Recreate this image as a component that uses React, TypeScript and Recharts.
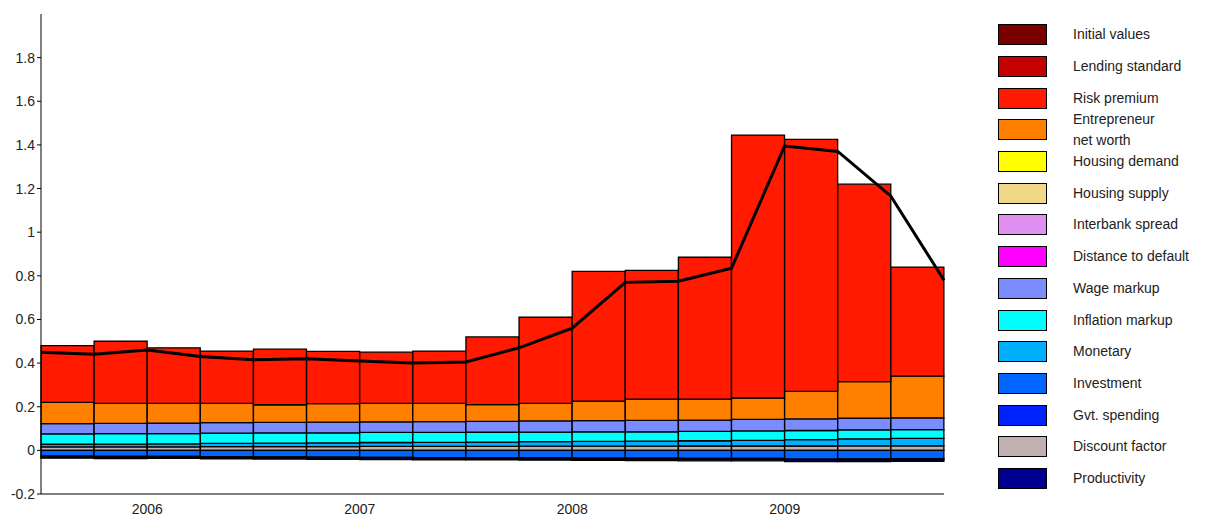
import React from 'react';
import { ComposedChart, Bar, Line, XAxis, YAxis } from 'recharts';

const quarters = ['2005Q3','2005Q4','2006Q1','2006Q2','2006Q3','2006Q4','2007Q1','2007Q2','2007Q3','2007Q4','2008Q1','2008Q2','2008Q3','2008Q4','2009Q1','2009Q2','2009Q3'];
const yearTicks: Record<number, string> = { 2: '2006', 6: '2007', 10: '2008', 14: '2009' };

const productivity = [-0.005,-0.006,-0.005,-0.006,-0.006,-0.006,-0.006,-0.006,-0.006,-0.006,-0.006,-0.007,-0.007,-0.007,-0.008,-0.008,-0.008];
const gvtSpending = [-0.004,-0.004,-0.004,-0.004,-0.004,-0.004,-0.004,-0.004,-0.004,-0.004,-0.004,-0.004,-0.004,-0.004,-0.004,-0.004,-0.004];
const investment = [-0.027,-0.028,-0.028,-0.029,-0.030,-0.031,-0.032,-0.033,-0.034,-0.035,-0.036,-0.036,-0.037,-0.037,-0.040,-0.039,-0.038];
const discountFactor = [0.016,0.016,0.016,0.017,0.017,0.017,0.018,0.018,0.018,0.019,0.019,0.019,0.020,0.020,0.020,0.021,0.021];
const monetary = [0.012,0.013,0.014,0.015,0.016,0.017,0.018,0.019,0.020,0.021,0.022,0.023,0.024,0.026,0.029,0.032,0.034];
const inflationMarkup = [0.048,0.048,0.047,0.047,0.047,0.046,0.046,0.045,0.045,0.044,0.044,0.043,0.043,0.043,0.042,0.041,0.040];
const wageMarkup = [0.047,0.047,0.048,0.048,0.048,0.049,0.049,0.050,0.050,0.051,0.051,0.052,0.052,0.053,0.053,0.054,0.054];
const entrepreneur = [0.097,0.091,0.09,0.088,0.081,0.085,0.084,0.083,0.077,0.08,0.089,0.098,0.096,0.098,0.126,0.167,0.191];
const riskPremium = [0.26,0.285,0.255,0.24,0.255,0.24,0.235,0.24,0.31,0.395,0.595,0.59,0.65,1.205,1.155,0.905,0.50];
const projection = [0.45,0.44,0.46,0.43,0.415,0.42,0.41,0.40,0.405,0.47,0.56,0.77,0.775,0.835,1.395,1.37,1.165,0.78];

const legendItems = [
  ['Initial values', '#7a0000'],
  ['Lending standard', '#c40000'],
  ['Risk premium', '#ff1a00'],
  ['Entrepreneur\nnet worth', '#ff8000'],
  ['Housing demand', '#ffff00'],
  ['Housing supply', '#f0d888'],
  ['Interbank spread', '#e090f0'],
  ['Distance to default', '#ff00ff'],
  ['Wage markup', '#7b8cff'],
  ['Inflation markup', '#00ffff'],
  ['Monetary', '#00b0ff'],
  ['Investment', '#0066ff'],
  ['Gvt. spending', '#0022ff'],
  ['Discount factor', '#c0b0b0'],
  ['Productivity', '#000090'],
];
const colorOf = (n: string) => legendItems.find((l) => l[0] === n)![1];

const barData = quarters.map((q, i) => ({
  q,
  productivity: productivity[i],
  gvt: gvtSpending[i],
  investment: investment[i],
  discount: discountFactor[i],
  monetary: monetary[i],
  inflation: inflationMarkup[i],
  wage: wageMarkup[i],
  entrepreneur: entrepreneur[i],
  risk: riskPremium[i],
}));
const lineData = projection.map((v, i) => ({ t: i, v }));

const series: [string, string][] = [
  ['discount', 'Discount factor'],
  ['monetary', 'Monetary'],
  ['inflation', 'Inflation markup'],
  ['wage', 'Wage markup'],
  ['entrepreneur', 'Entrepreneur\nnet worth'],
  ['risk', 'Risk premium'],
  ['investment', 'Investment'],
  ['gvt', 'Gvt. spending'],
  ['productivity', 'Productivity'],
];

const YearTick = (props: any) => {
  const { x, y, payload } = props;
  const label = yearTicks[payload.index];
  if (!label) return null;
  return (
    <text x={x - 26.5} y={y + 12} textAnchor="middle" fontSize={14} fill="#222">{label}</text>
  );
};

const App = () => {
  const font = 'Liberation Sans, Arial, sans-serif';
  return (
    <div style={{ position: 'absolute', left: 0, top: 0, width: 1206, height: 519, background: '#fff', fontFamily: font }}>
      <ComposedChart width={960} height={519} data={barData} stackOffset="sign" barCategoryGap={0}
        margin={{ top: 14, right: 16, bottom: 3, left: 0 }} style={{ fontFamily: font }}>
        <XAxis dataKey="q" xAxisId="cat" axisLine={{ stroke: '#000' }} tickLine={false} tick={<YearTick />} interval={0} height={22} />
        <XAxis xAxisId="line" type="number" dataKey="t" domain={[0, 17]} hide />
        <XAxis xAxisId="top" orientation="top" dataKey="q" height={0} tick={false} tickLine={false} axisLine={{ stroke: '#000' }} />
        <YAxis yAxisId="l" domain={[-0.2, 2.0]} ticks={[-0.2,0,0.2,0.4,0.6,0.8,1,1.2,1.4,1.6,1.8]} interval={0}
          tickFormatter={(v: number) => String(Math.round(v * 10) / 10)} width={41} tickSize={4}
          tick={{ fontSize: 14, fill: '#222' }} axisLine={{ stroke: '#000' }} tickLine={{ stroke: '#000' }} allowDataOverflow />
        <YAxis yAxisId="r" orientation="right" domain={[-0.2, 2.0]} width={0} tick={false} tickLine={false} axisLine={{ stroke: '#000' }} />
        {series.map(([key, name]) => (
          <Bar key={key} dataKey={key} xAxisId="cat" yAxisId="l" stackId="s" fill={colorOf(name)} stroke="#000" strokeWidth={1.3} isAnimationActive={false} />
        ))}
        <Line data={lineData} dataKey="v" xAxisId="line" yAxisId="l" type="linear" stroke="#000" strokeWidth={3} dot={false} isAnimationActive={false} />
      </ComposedChart>
      <div style={{ position: 'absolute', left: 998, top: 19 }}>
        {legendItems.map(([name, color]) => (
          <div key={name} style={{ display: 'flex', alignItems: 'center', height: 31.7 }}>
            <div style={{ width: 49, height: 21, background: color, border: '1px solid #000', boxSizing: 'border-box' }} />
            <div style={{ marginLeft: 26, fontSize: 14, color: '#222', whiteSpace: 'pre', lineHeight: '21px' }}>{name}</div>
          </div>
        ))}
      </div>
    </div>
  );
};

export default App;
